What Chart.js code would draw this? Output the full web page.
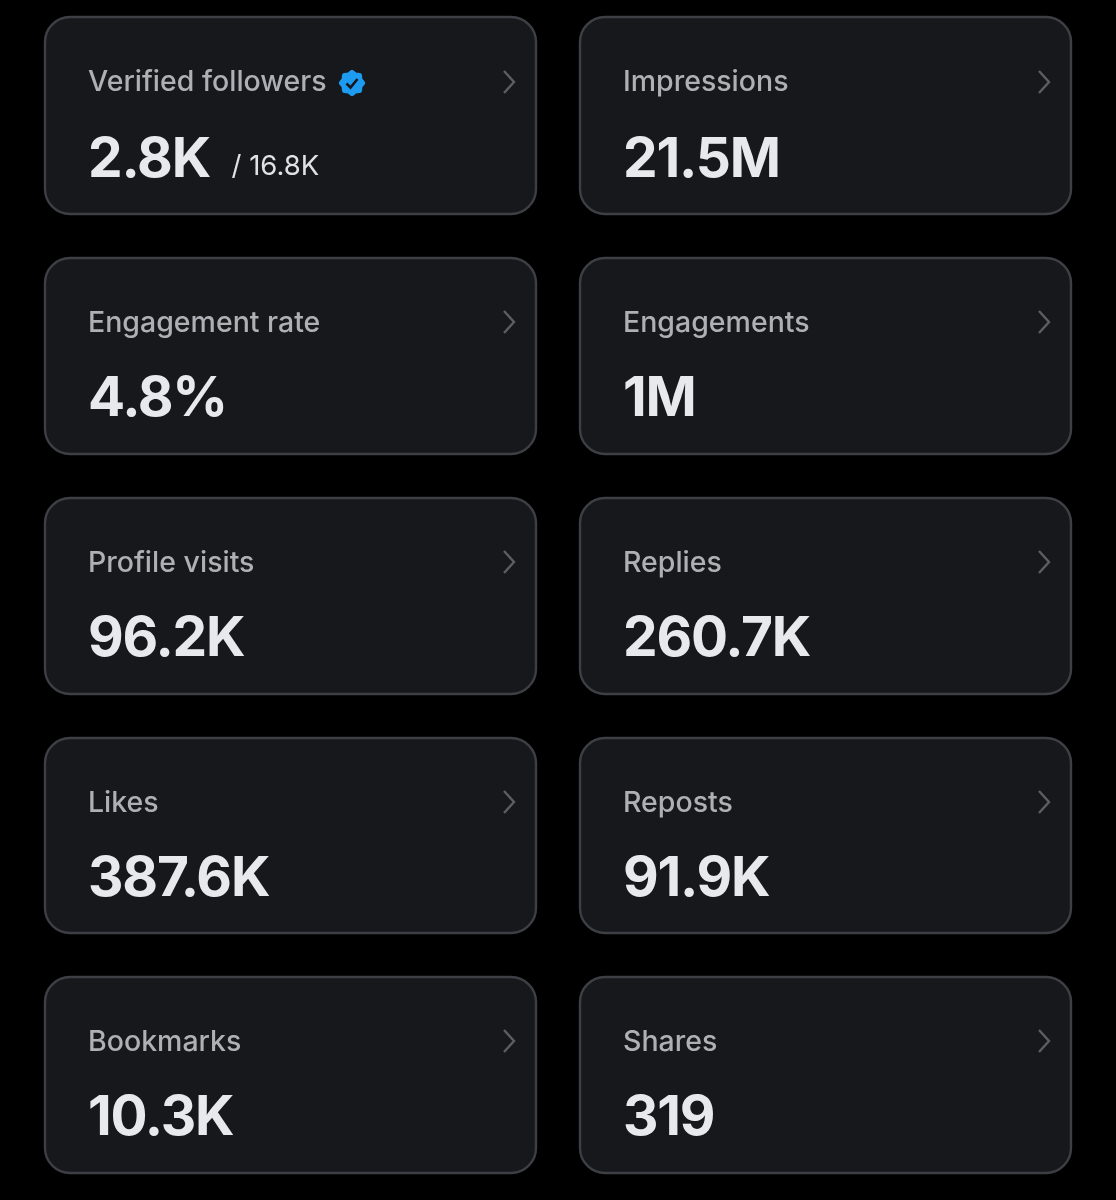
<!DOCTYPE html>
<html>
<head>
<meta charset="utf-8">
<title>Account analytics</title>
<script src="https://cdn.jsdelivr.net/npm/chart.js@4"></script>
<style>
  html, body { margin: 0; padding: 0; background: #000; }
  canvas { display: block; }
</style>
</head>
<body>
<canvas id="myChart" width="1116" height="1200"></canvas>
<script>
'use strict';

const metricNames = ['Verified followers', 'Impressions', 'Engagement rate', 'Engagements', 'Profile visits', 'Replies', 'Likes', 'Reposts', 'Bookmarks', 'Shares'];
const metricTexts = ['2.8K', '21.5M', '4.8%', '1M', '96.2K', '260.7K', '387.6K', '91.9K', '10.3K', '319'];
const metricValues = [2800, 21500000, 4.8, 1000000, 96200, 260700, 387600, 91900, 10300, 319];
const totalFollowers = '/ 16.8K';

const colLeft = [45, 580];
const rowTop = [17, 258, 498, 738, 977];
const rowHeight = [197, 196, 196, 195, 196];
const cardW = 491;

function drawBadge(ctx, cx, cy) {
  ctx.beginPath();
  for (let a = 0; a <= 360; a += 3) {
    let r = 12.2 + 0.9 * Math.cos(a * 8 * Math.PI / 180);
    let x = cx + r * Math.cos(a * Math.PI / 180);
    let y = cy + r * Math.sin(a * Math.PI / 180);
    if (a === 0) ctx.moveTo(x, y); else ctx.lineTo(x, y);
  }
  ctx.closePath();
  ctx.fillStyle = '#1d9bf0';
  ctx.fill();
  ctx.beginPath();
  ctx.moveTo(cx - 5.5, cy + 0.5);
  ctx.lineTo(cx - 1.5, cy + 4.5);
  ctx.lineTo(cx + 5.5, cy - 4);
  ctx.strokeStyle = '#16181d';
  ctx.lineWidth = 2.6;
  ctx.stroke();
}

const cardsPlugin = {
  id: 'cards',
  afterDraw(chart) {
    const ctx = chart.ctx;
    ctx.save();
    ctx.textAlign = 'left';
    ctx.textBaseline = 'alphabetic';
    chart.data.labels.forEach((name, i) => {
      let row = Math.floor(i / 2);
      let x = colLeft[i % 2];
      let y = rowTop[row];

      ctx.beginPath();
      ctx.roundRect(x, y, cardW, rowHeight[row], 25);
      ctx.fillStyle = '#16181c';
      ctx.fill();
      ctx.strokeStyle = '#3d3f44';
      ctx.lineWidth = 2.4;
      ctx.stroke();

      ctx.letterSpacing = '0px';
      ctx.fillStyle = '#aeb0b5';
      ctx.font = '500 28.5px Inter';
      ctx.fillText(name, x + 43, y + (row === 0 ? 74 : 73.5));

      ctx.letterSpacing = '-1.2px';
      ctx.fillStyle = '#e7e9ec';
      ctx.font = '700 55px Inter';
      ctx.fillText(metricTexts[i], x + 43, y + (row === 0 ? 159.5 : 158));
      ctx.letterSpacing = '0px';

      if (i === 0) {
        ctx.font = '400 27.5px Inter';
        ctx.fillStyle = '#dfe1e5';
        ctx.fillText(totalFollowers, x + 186.5, y + 158);
        drawBadge(ctx, x + 307, y + 66);
      }

      let chevY = y + (row === 0 ? 65 : 64);
      ctx.beginPath();
      ctx.moveTo(x + 459, chevY - 11);
      ctx.lineTo(x + 469, chevY);
      ctx.lineTo(x + 459, chevY + 11);
      ctx.strokeStyle = '#5c5e63';
      ctx.lineWidth = 2.4;
      ctx.stroke();
    });
    ctx.restore();
  }
};

new Chart(document.getElementById('myChart'), {
  type: 'bar',
  data: {
    labels: metricNames,
    datasets: [{ label: 'Metrics', data: metricValues, backgroundColor: 'transparent' }]
  },
  options: {
    responsive: false,
    animation: false,
    devicePixelRatio: 1,
    plugins: { legend: { display: false }, tooltip: { enabled: false } },
    scales: { x: { display: false }, y: { display: false } }
  },
  plugins: [cardsPlugin]
});
</script>
</body>
</html>
